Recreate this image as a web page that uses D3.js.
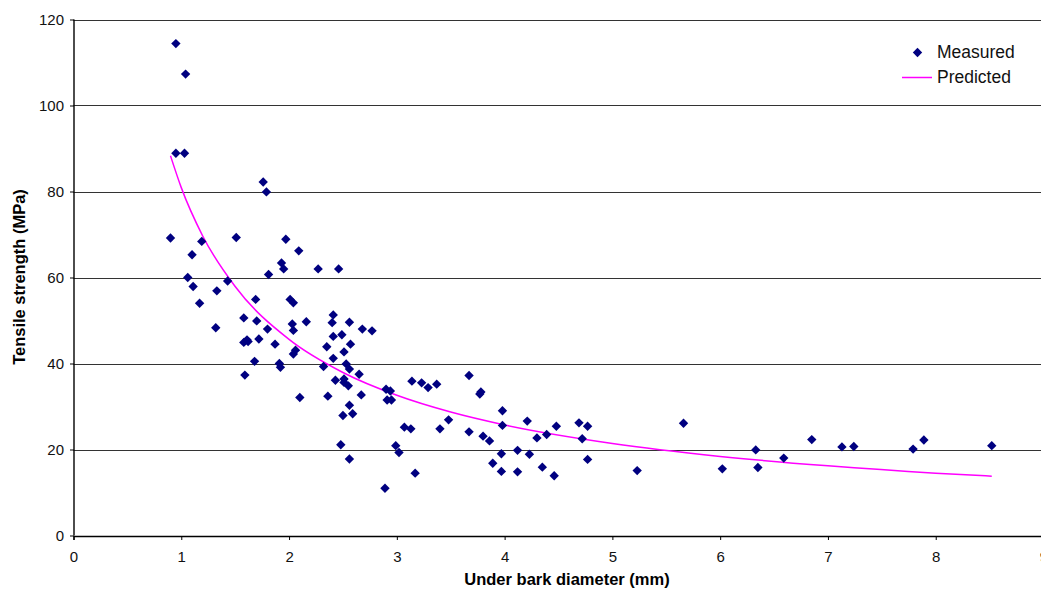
<!DOCTYPE html>
<html>
<head>
<meta charset="utf-8">
<script src="https://cdn.jsdelivr.net/npm/d3@7"></script>
<style>
  html, body { margin: 0; padding: 0; background: #fff; overflow: hidden; }
  svg { display: block; font-family: "Liberation Sans", Arial, sans-serif; }
</style>
</head>
<body>
<svg id="chart"></svg>
<script>
// measured points
let measuredX = [
  0.95, 1.04, 0.95, 1.03, 1.76, 1.79, 0.90, 1.19, 1.51, 1.97,
  2.09, 1.10, 1.93, 1.95, 2.27, 2.46, 1.81, 1.06, 1.11, 1.43,
  1.33, 1.17, 1.69, 2.01, 2.04, 1.58, 1.70, 1.80, 2.03, 2.04,
  2.16, 2.41, 2.40, 2.56, 2.68, 2.77, 1.32, 1.58, 1.61, 1.62,
  1.72, 1.87, 2.41, 2.49, 2.57, 2.35, 2.06, 2.04, 2.51, 2.41,
  1.68, 1.91, 1.92, 2.32, 2.53, 2.56, 2.65, 1.59, 2.10, 2.36,
  2.43, 2.51, 2.51, 2.55, 2.67, 2.56, 2.50, 2.59, 2.48, 2.56,
  2.89, 2.90, 2.94, 2.91, 2.95, 3.14, 3.23, 3.29, 3.37, 3.07,
  3.13, 2.99, 3.02, 3.17, 3.40, 3.48, 3.67, 3.77, 3.78, 3.67,
  3.80, 3.86, 3.98, 3.98, 4.21, 3.97, 4.12, 4.23, 3.89, 3.97,
  4.12, 4.30, 4.39, 4.48, 4.69, 4.77, 4.72, 4.77, 4.35, 4.46,
  5.23, 5.66, 6.02, 6.33, 6.35, 6.59, 6.85, 7.13, 7.24, 7.79,
  7.89, 8.52
];
let measuredY = [
  114.4, 107.3, 88.9, 88.9, 82.2, 79.9, 69.2, 68.4, 69.3, 68.9,
  66.2, 65.3, 63.4, 62.0, 62.0, 62.0, 60.7, 60.0, 57.9, 59.2,
  56.9, 54.0, 54.9, 54.9, 54.1, 50.6, 49.9, 48.0, 49.2, 47.7,
  49.7, 51.3, 49.5, 49.6, 48.0, 47.6, 48.3, 44.9, 45.5, 45.1,
  45.7, 44.5, 46.3, 46.7, 44.5, 43.9, 43.1, 42.2, 42.7, 41.2,
  40.5, 40.0, 39.1, 39.3, 39.9, 38.7, 37.5, 37.3, 32.1, 32.4,
  36.1, 36.4, 35.6, 34.8, 32.7, 30.3, 27.9, 28.3, 21.1, 17.8,
  11.0, 34.0, 33.6, 31.5, 31.5, 35.9, 35.5, 34.4, 35.2, 25.2,
  24.8, 20.9, 19.3, 14.5, 24.8, 26.9, 37.2, 32.9, 33.4, 24.1,
  23.1, 22.0, 29.0, 25.6, 26.6, 19.0, 19.8, 18.9, 16.8, 14.9,
  14.8, 22.7, 23.5, 25.4, 26.2, 25.4, 22.5, 17.7, 15.9, 13.9,
  15.1, 26.1, 15.5, 19.9, 15.8, 18.0, 22.3, 20.6, 20.7, 20.1,
  22.2, 20.9
];

// predicted curve, sampled along the drawn line
let predictedX = [0.9, 1.0, 1.2, 1.5, 2.0, 2.5, 3.0, 3.5, 4.0, 5.0, 6.0, 7.0, 8.0, 8.52];
let predictedY = [88.3, 80.9, 69.6, 57.9, 45.6, 37.9, 32.6, 28.7, 25.7, 21.4, 18.4, 16.2, 14.5, 13.8];

let xTicks = [0, 1, 2, 3, 4, 5, 6, 7, 8, 9];
let yTicks = [0, 20, 40, 60, 80, 100, 120];

let seriesNames = ["Measured", "Predicted"];
let xTitle = "Under bark diameter (mm)";
let yTitle = "Tensile strength (MPa)";

let width = 1041;
let height = 595;

let svg = d3.select("#chart")
  .attr("width", width)
  .attr("height", height);

let xScale = d3.scaleLinear().domain([0, 9]).range([73.5, 1043.5]);
let yScale = d3.scaleLinear().domain([0, 120]).range([535.5, 19.5]);

// horizontal gridlines
svg.append("g")
  .selectAll("line")
  .data(yTicks.filter(d => d > 0))
  .join("line")
  .attr("x1", xScale(0))
  .attr("x2", xScale(9))
  .attr("y1", d => Math.round(yScale(d)) + 0.5)
  .attr("y2", d => Math.round(yScale(d)) + 0.5)
  .attr("stroke", "#333")
  .attr("stroke-width", 1.2);

let xAxis = d3.axisBottom(xScale)
  .tickValues(xTicks)
  .tickSize(4)
  .tickPadding(11)
  .tickFormat(d3.format("d"));
let yAxis = d3.axisLeft(yScale)
  .tickValues(yTicks)
  .tickSize(4)
  .tickPadding(6)
  .tickFormat(d3.format("d"));

let gx = svg.append("g")
  .attr("transform", `translate(0, ${Math.round(yScale(0))})`)
  .call(xAxis);
let gy = svg.append("g")
  .attr("transform", `translate(${Math.round(xScale(0))}, 0)`)
  .call(yAxis);

[gx, gy].forEach(g => {
  g.select(".domain").attr("stroke", "#000").attr("stroke-width", 1.4);
  g.selectAll(".tick line").attr("stroke", "#000");
  g.selectAll("text")
    .attr("fill", "#111")
    .style("font-size", "15px")
    .style("font-family", "Liberation Sans, Arial, sans-serif");
});
gy.select(".domain").attr("d", `M0,${yScale(120)}V${yScale(0)}`);

// predicted line
let line = d3.line()
  .x((d, i) => xScale(predictedX[i]))
  .y(d => yScale(d))
  .curve(d3.curveMonotoneX);

svg.append("path")
  .datum(predictedY)
  .attr("d", line)
  .attr("fill", "none")
  .attr("stroke", "#ff00ff")
  .attr("stroke-width", 1.5);

// measured diamonds
let diamond = d3.symbol().type(d3.symbolSquare).size(44);

svg.append("g")
  .selectAll("path")
  .data(measuredY)
  .join("path")
  .attr("d", diamond)
  .attr("transform", (d, i) => `translate(${xScale(measuredX[i])}, ${yScale(d)}) rotate(45)`)
  .attr("fill", "#000080");

// axis titles
svg.append("text")
  .attr("x", 567)
  .attr("y", 585)
  .attr("text-anchor", "middle")
  .style("font-size", "16.5px")
  .style("font-weight", "bold")
  .attr("fill", "#000")
  .text(xTitle);

svg.append("text")
  .attr("transform", "translate(25, 277) rotate(-90)")
  .attr("text-anchor", "middle")
  .style("font-size", "16.5px")
  .style("font-weight", "bold")
  .attr("fill", "#000")
  .text(yTitle);

// legend
let legend = svg.append("g");
legend.append("path")
  .attr("d", diamond)
  .attr("transform", "translate(917.5, 52.5) rotate(45)")
  .attr("fill", "#000080");
legend.append("line")
  .attr("x1", 902)
  .attr("x2", 932)
  .attr("y1", 77.5)
  .attr("y2", 77.5)
  .attr("stroke", "#ff00ff")
  .attr("stroke-width", 1.5);
legend.selectAll("text")
  .data(seriesNames)
  .join("text")
  .attr("x", 937)
  .attr("y", (d, i) => 58 + i * 25)
  .style("font-size", "17.5px")
  .attr("fill", "#111")
  .text(d => d);
</script>
</body>
</html>
